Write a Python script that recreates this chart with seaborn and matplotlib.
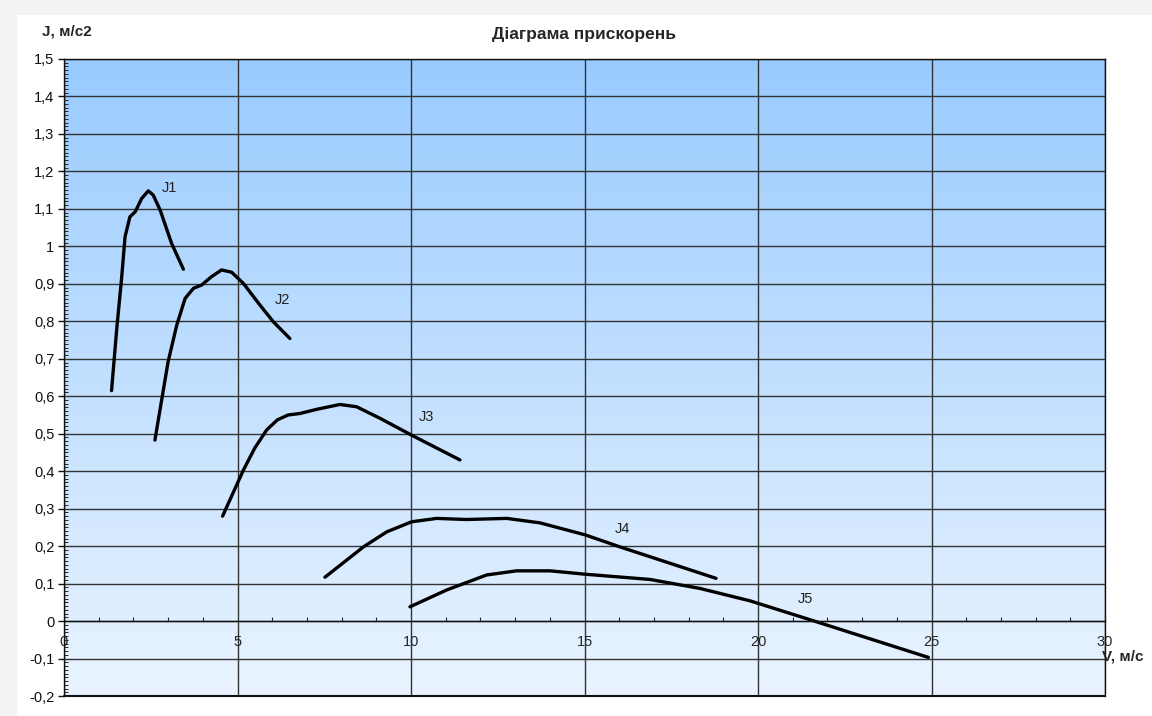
import numpy as np
import pandas as pd
import matplotlib
matplotlib.use('Agg')
import matplotlib.pyplot as plt
from matplotlib.colors import LinearSegmentedColormap
from matplotlib.patches import Rectangle
from matplotlib.ticker import MultipleLocator, FuncFormatter
import seaborn as sns

# values
j1_v = [1.37, 1.52, 1.66, 1.76, 1.90, 2.05, 2.24, 2.43, 2.57, 2.77, 3.10, 3.44]
j1_j = [0.615, 0.78, 0.915, 1.026, 1.079, 1.092, 1.128, 1.148, 1.137, 1.097, 1.008, 0.939]
j2_v = [2.62, 3.00, 3.25, 3.49, 3.73, 3.97, 4.25, 4.54, 4.83, 5.17, 5.65, 6.03, 6.51]
j2_j = [0.483, 0.692, 0.790, 0.861, 0.888, 0.897, 0.919, 0.937, 0.931, 0.901, 0.843, 0.799, 0.754]
j3_v = [4.57, 5.17, 5.50, 5.84, 6.15, 6.46, 6.80, 7.28, 7.95, 8.43, 9.11, 10.02, 11.41]
j3_j = [0.280, 0.403, 0.462, 0.510, 0.537, 0.550, 0.554, 0.565, 0.578, 0.572, 0.541, 0.496, 0.430]
j4_v = [7.52, 8.63, 9.30, 10.02, 10.74, 11.60, 12.76, 13.72, 15.02, 16.02, 18.79]
j4_j = [0.117, 0.198, 0.238, 0.265, 0.274, 0.271, 0.274, 0.262, 0.230, 0.198, 0.114]
j5_v = [9.97, 11.03, 12.18, 13.04, 14.01, 15.02, 16.89, 18.33, 19.77, 21.69, 24.91]
j5_j = [0.038, 0.083, 0.123, 0.134, 0.134, 0.125, 0.111, 0.087, 0.054, -0.002, -0.097]

curve_names = ['J1', 'J2', 'J3', 'J4', 'J5']
label_v = [3.03, 6.30, 10.45, 16.1, 21.37]
label_j = [1.157, 0.857, 0.545, 0.245, 0.059]

frames = []
for name, v, j in zip(curve_names, [j1_v, j2_v, j3_v, j4_v, j5_v],
                      [j1_j, j2_j, j3_j, j4_j, j5_j]):
    frames.append(pd.DataFrame({'V': v, 'J': j, 'curve': name}))
df = pd.concat(frames, ignore_index=True)

sns.set_style('white')
plt.rcParams['font.family'] = ['Liberation Sans', 'DejaVu Sans']

fig = plt.figure(figsize=(11.52, 7.16), dpi=100, facecolor='#f3f3f3')
fig.patches.append(Rectangle((17 / 1152, 0), 1, (716 - 15) / 716, transform=fig.transFigure,
                             facecolor='white', edgecolor='none', zorder=-10))
ax = fig.add_axes([64 / 1152, 1 - 696 / 716, (1105 - 64) / 1152, (696 - 59) / 716])

# gradient background
cmap = LinearSegmentedColormap.from_list('bg', ['#eaf4ff', '#99cbff'])
grad = np.linspace(0, 1, 256).reshape(-1, 1)
ax.imshow(grad, extent=[0, 30, -0.2, 1.5], origin='lower', aspect='auto', cmap=cmap, zorder=-1)

sns.lineplot(data=df, x='V', y='J', units='curve', estimator=None, sort=False,
             color='black', lw=2.4, ax=ax, legend=False, solid_capstyle='round',
             solid_joinstyle='round')

for name, v, j in zip(curve_names, label_v, label_j):
    ax.text(v, j, name, fontsize=10.5, ha='center', va='center', color='#222222')

ax.set_xlim(0, 30)
ax.set_ylim(-0.2, 1.5)
ax.xaxis.set_major_locator(MultipleLocator(5))
ax.xaxis.set_minor_locator(MultipleLocator(1))
ax.yaxis.set_major_locator(MultipleLocator(0.1))
ax.yaxis.set_minor_locator(MultipleLocator(0.01))
ax.yaxis.set_major_formatter(FuncFormatter(
    lambda y, _: ('%.1f' % y).rstrip('0').rstrip('.').replace('.', ',') if abs(y) > 1e-9 else '0'))
ax.xaxis.set_major_formatter(FuncFormatter(lambda x, _: '%d' % round(x)))

ax.grid(True, which='major', color='#333333', lw=1.0)
ax.spines['bottom'].set_position(('data', 0))
for s in ['left', 'right', 'top', 'bottom']:
    ax.spines[s].set_visible(True)
    ax.spines[s].set_color('#111111')
    ax.spines[s].set_linewidth(1.0)
ax.axhline(-0.2, color='#111111', lw=1.5, clip_on=False)

ax.tick_params(axis='y', which='major', direction='out', length=4, width=1, labelsize=10.5,
               colors='#111111', pad=3, left=True)
ax.tick_params(axis='y', which='minor', direction='in', length=3, width=0.7, left=True, right=False)
ax.tick_params(axis='x', which='major', direction='in', length=0, labelsize=10.5, pad=10, bottom=True)
ax.tick_params(axis='x', which='minor', direction='in', length=3, width=0.8, bottom=True)

ax.set_xlabel('')
ax.set_ylabel('')
fig.text(67 / 1152, 1 - 31 / 716, 'J, м/с2', fontsize=11, fontweight='bold', ha='center', va='center')
fig.text(584 / 1152, 1 - 35 / 716, 'Діаграма прискорень', fontsize=12.5, fontweight='bold',
         ha='center', va='center')
ax.text(29.9, -0.095, 'V, м/с', fontsize=11, fontweight='bold', ha='left', va='center', clip_on=False)

fig.savefig('out.png', dpi=100, facecolor=fig.get_facecolor())
